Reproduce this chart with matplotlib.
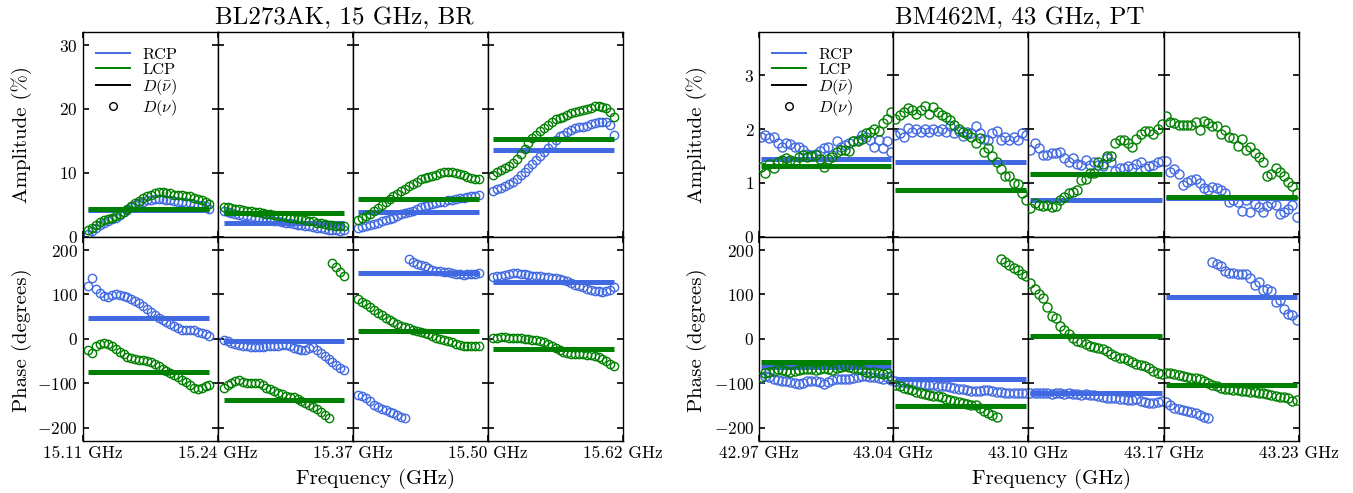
import numpy as np
import matplotlib
matplotlib.use("Agg")
import matplotlib.pyplot as plt
from matplotlib.lines import Line2D

plt.rcParams['font.family'] = ['cmr10', 'DejaVu Serif']
plt.rcParams['mathtext.fontset'] = 'cm'
plt.rcParams['mathtext.rm'] = 'cmr10'
plt.rcParams['axes.unicode_minus'] = False

# ---------------- data ----------------
titles = ["BL273AK, 15 GHz, BR", "BM462M, 43 GHz, PT"]
freq_edges_15 = ["15.11", "15.24", "15.37", "15.50", "15.62"]
freq_edges_43 = ["42.97", "43.04", "43.10", "43.17", "43.23"]

# BL273AK, amplitude (%) per IF
amp15_rcp = [
    [0.5, 0.9, 1.4, 1.9, 2.2, 2.5, 2.7, 3.0, 3.4, 3.8, 4.2, 4.6, 4.9, 5.2, 5.5, 5.7,
     5.8, 5.9, 5.9, 5.9, 5.8, 5.7, 5.6, 5.5, 5.4, 5.3, 5.2, 5.1, 5.0, 4.9, 4.8, 4.4],
    [4.0, 3.8, 3.7, 3.5, 3.4, 3.3, 3.2, 3.1, 3.0, 2.9, 2.8, 2.7, 2.6, 2.5, 2.4, 2.3,
     2.2, 2.1, 2.0, 1.9, 1.8, 1.7, 1.6, 1.5, 1.4, 1.3, 1.2, 1.1, 1.0, 1.0, 0.9, 1.0],
    [1.3, 1.5, 1.6, 1.8, 2.0, 2.2, 2.4, 2.6, 2.8, 3.0, 3.2, 3.5, 3.7, 3.9, 4.1, 4.4,
     4.6, 4.8, 5.0, 5.1, 5.3, 5.4, 5.5, 5.7, 5.8, 5.9, 6.0, 6.1, 6.2, 6.3, 6.4, 6.5],
    [7.1, 7.4, 7.7, 8.0, 8.2, 8.6, 9.1, 9.6, 10.2, 10.8, 11.4, 12.0, 12.7, 13.3, 13.9, 14.5,
     15.1, 15.7, 16.0, 16.4, 16.7, 17.0, 17.1, 17.2, 17.4, 17.6, 17.8, 18.0, 18.0, 17.9, 17.5, 16.0],
]
amp15_lcp = [
    [1.0, 1.3, 1.8, 2.3, 2.6, 2.8, 2.9, 3.2, 3.6, 3.9, 4.3, 4.8, 5.2, 5.6, 6.0, 6.3,
     6.6, 6.8, 7.0, 7.0, 6.9, 6.8, 6.6, 6.5, 6.5, 6.4, 6.3, 6.1, 5.9, 5.7, 5.4, 5.1],
    [4.7, 4.6, 4.5, 4.4, 4.3, 4.2, 4.1, 4.0, 3.9, 3.8, 3.7, 3.6, 3.5, 3.4, 3.3, 3.2,
     3.1, 3.0, 2.9, 2.8, 2.7, 2.6, 2.5, 2.4, 2.2, 2.1, 2.0, 1.9, 1.8, 1.7, 1.7, 1.6],
    [2.6, 2.9, 3.2, 3.5, 4.0, 4.5, 5.0, 5.5, 5.9, 6.3, 6.7, 7.1, 7.5, 7.9, 8.3, 8.6,
     9.0, 9.2, 9.4, 9.5, 9.7, 9.9, 10.1, 10.2, 10.1, 9.9, 9.8, 9.6, 9.3, 9.2, 9.1, 9.1],
    [9.7, 10.1, 10.5, 10.8, 11.1, 11.5, 12.2, 13.0, 13.8, 14.6, 15.4, 16.0, 16.5, 17.0, 17.5, 18.0,
     18.4, 18.6, 18.8, 19.0, 19.3, 19.5, 19.7, 19.8, 20.0, 20.2, 20.4, 20.4, 20.3, 20.1, 19.6, 18.8],
]
amp15_rcp_mean = [4.2, 2.1, 3.9, 13.6]
amp15_lcp_mean = [4.3, 3.7, 5.9, 15.3]

# BL273AK, phase (degrees)
pha15_rcp = [
    [120, 137, 112, 104, 97, 95, 98, 100, 99, 97, 95, 90, 85, 80, 73, 67,
     60, 53, 47, 42, 38, 33, 29, 24, 21, 20, 20, 19, 16, 13, 10, 7],
    [-2, -5, -9, -11, -14, -16, -17, -18, -19, -19, -18, -17, -16, -15, -15, -14,
     -14, -16, -21, -23, -25, -24, -20, -19, -25, -32, -38, -45, -52, -59, -65, -70],
    [-126, -129, -134, -140, -148, -153, -157, -160, -164, -168, -172, -175, -179, 179, 172, 169,
     166, 163, 160, 156, 153, 152, 151, 150, 149, 147, 145, 144, 145, 146, 147, 148],
    [140, 141, 142, 143, 146, 148, 149, 147, 145, 143, 142, 141, 141, 140, 139, 137,
     136, 134, 133, 130, 126, 122, 119, 116, 113, 111, 108, 107, 106, 107, 110, 117],
]
pha15_lcp = [
    [-25, -32, -15, -11, -9, -11, -15, -22, -30, -35, -40, -44, -46, -47, -48, -50,
     -53, -57, -62, -67, -72, -77, -82, -87, -92, -98, -104, -110, -112, -110, -107, -104],
    [-111, -105, -100, -95, -93, -97, -100, -100, -99, -100, -104, -110, -114, -118, -122, -125,
     -128, -130, -132, -135, -140, -145, -150, -154, -158, -164, -171, -178, 170, 161, 150, 141],
    [90, 84, 78, 72, 65, 59, 53, 47, 42, 38, 33, 30, 27, 24, 21, 18,
     16, 13, 10, 6, 3, 0, -3, -5, -8, -11, -13, -15, -17, -17, -16, -16],
    [2, 3, 4, 4, 3, 3, 2, 1, 0, -1, -2, -3, -5, -7, -11, -16,
     -21, -25, -29, -32, -33, -34, -34, -35, -36, -36, -38, -41, -45, -50, -56, -62],
]
pha15_rcp_mean = [46, -5, 148, 127]
pha15_lcp_mean = [-75, -138, 18, -23]

# BM462M, amplitude (%)
amp43_rcp = [
    [1.85, 1.89, 1.83, 1.86, 1.74, 1.67, 1.75, 1.72, 1.66, 1.67, 1.62, 1.54, 1.52, 1.54, 1.60, 1.64,
     1.66, 1.52, 1.77, 1.67, 1.70, 1.74, 1.77, 1.80, 1.89, 1.86, 1.80, 1.67, 1.80, 1.64, 1.77, 1.58],
    [1.89, 1.93, 1.85, 2.03, 1.95, 2.01, 1.95, 2.01, 1.95, 2.00, 1.97, 2.00, 1.95, 2.06, 1.93, 1.97,
     1.87, 1.95, 1.92, 2.05, 1.93, 1.81, 1.80, 1.93, 1.97, 1.79, 1.86, 1.80, 1.86, 1.80, 1.92, 1.89],
    [1.61, 1.74, 1.64, 1.52, 1.52, 1.55, 1.56, 1.58, 1.46, 1.39, 1.46, 1.36, 1.33, 1.43, 1.33, 1.39,
     1.33, 1.31, 1.46, 1.39, 1.23, 1.27, 1.27, 1.31, 1.27, 1.36, 1.38, 1.27, 1.31, 1.33, 1.38, 1.40],
    [1.41, 1.21, 1.25, 1.17, 0.96, 1.02, 1.05, 1.08, 0.99, 0.90, 0.87, 0.92, 0.90, 0.87, 0.81, 0.65,
     0.69, 0.65, 0.48, 0.68, 0.46, 0.61, 0.55, 0.45, 0.57, 0.63, 0.59, 0.43, 0.45, 0.51, 0.59, 0.36],
]
amp43_lcp = [
    [1.30, 1.18, 1.36, 1.27, 1.39, 1.43, 1.46, 1.43, 1.38, 1.49, 1.52, 1.48, 1.50, 1.52, 1.44, 1.29,
     1.44, 1.49, 1.58, 1.62, 1.62, 1.60, 1.77, 1.77, 1.81, 1.92, 1.95, 2.01, 1.97, 2.12, 2.18, 2.32],
    [2.18, 2.26, 2.32, 2.39, 2.36, 2.29, 2.36, 2.43, 2.28, 2.41, 2.32, 2.26, 2.23, 2.17, 2.08, 2.01,
     1.95, 1.91, 1.85, 1.75, 1.83, 1.58, 1.64, 1.50, 1.39, 1.25, 1.12, 1.12, 1.00, 0.98, 0.81, 0.68],
    [0.53, 0.62, 0.59, 0.57, 0.59, 0.55, 0.57, 0.69, 0.74, 0.81, 0.84, 0.86, 1.05, 1.07, 1.18, 1.19,
     1.38, 1.35, 1.50, 1.50, 1.75, 1.79, 1.79, 1.74, 1.67, 1.81, 1.91, 1.97, 1.97, 1.91, 2.00, 2.10],
    [2.24, 2.14, 2.11, 2.08, 2.08, 2.08, 2.08, 2.14, 1.98, 2.16, 2.12, 2.06, 2.05, 1.91, 1.98, 1.86,
     1.83, 1.69, 1.81, 1.61, 1.67, 1.55, 1.49, 1.38, 1.13, 1.17, 1.27, 1.21, 1.12, 1.02, 0.94, 0.82],
]
amp43_rcp_mean = [1.44, 1.38, 0.68, 0.72]
amp43_lcp_mean = [1.31, 0.87, 1.16, 0.73]

# BM462M, phase (degrees)
pha43_rcp = [
    [-89, -84, -86, -90, -92, -95, -96, -97, -99, -101, -100, -96, -95, -94, -98, -101,
     -97, -93, -91, -90, -91, -90, -89, -86, -84, -83, -85, -87, -89, -90, -86, -92],
    [-96, -97, -98, -99, -100, -101, -102, -103, -104, -105, -106, -106, -107, -108, -110, -112,
     -114, -115, -117, -118, -117, -116, -115, -117, -119, -120, -121, -121, -121, -122, -123, -121],
    [-121, -122, -121, -123, -123, -124, -122, -123, -124, -123, -125, -124, -126, -125, -126, -127,
     -129, -131, -133, -134, -134, -135, -135, -137, -138, -136, -140, -142, -144, -144, -143, -141],
    [-143, -150, -156, -159, -160, -162, -164, -168, -172, -175, -179, 174, 169, 163, 152, 149,
     148, 147, 147, 146, 137, 122, 129, 110, 112, 107, 82, 88, 67, 55, 54, 43],
]
pha43_lcp = [
    [-85, -78, -75, -72, -69, -70, -72, -74, -73, -71, -69, -68, -69, -70, -68, -66,
     -68, -70, -66, -63, -62, -64, -66, -68, -71, -74, -76, -75, -77, -79, -77, -83],
    [-104, -107, -111, -113, -116, -119, -121, -124, -126, -128, -129, -132, -135, -138, -140, -142,
     -144, -146, -148, -150, -156, -162, -167, -172, -177, 180, 172, 166, 160, 154, 147, 141],
    [125, 112, 100, 92, 72, 52, 48, 30, 20, 10, 3, -5, -8, -12, -17, -19,
     -21, -23, -27, -33, -38, -42, -44, -48, -51, -56, -58, -62, -66, -72, -76, -79],
    [-77, -78, -80, -82, -84, -86, -88, -89, -91, -96, -100, -104, -107, -110, -112, -114,
     -115, -116, -117, -118, -119, -120, -121, -122, -124, -126, -129, -130, -131, -134, -140, -138],
]
pha43_rcp_mean = [-64, -91, -123, 94]
pha43_lcp_mean = [-51, -151, 7, -105]

RCP_COLOR = "royalblue"
LCP_COLOR = "green"

# ---------------- layout ----------------
W, H = 1353, 493
fig = plt.figure(figsize=(W / 100, H / 100), dpi=100)

def px_axes(x0, x1, y0, y1):
    return fig.add_axes([x0 / W, 1 - y1 / H, (x1 - x0) / W, (y1 - y0) / H])

rows_px = [(32.3, 236.7), (236.7, 441.0)]
groups = [
    dict(xe=[82.7, 218.0, 352.7, 487.7, 622.7], freqs=freq_edges_15,
         amp=(amp15_rcp, amp15_lcp, amp15_rcp_mean, amp15_lcp_mean),
         pha=(pha15_rcp, pha15_lcp, pha15_rcp_mean, pha15_lcp_mean),
         amp_ylim=(0, 32), amp_ticks=[0, 10, 20, 30], pad=(1.46, 2.2), ms=6.0,
         title=titles[0], title_x=344, xlabel_x=376, ylab_x=22),
    dict(xe=[759.0, 893.3, 1028.3, 1164.0, 1298.7], freqs=freq_edges_43,
         amp=(amp43_rcp, amp43_lcp, amp43_rcp_mean, amp43_lcp_mean),
         pha=(pha43_rcp, pha43_lcp, pha43_rcp_mean, pha43_lcp_mean),
         amp_ylim=(0, 3.8), amp_ticks=[0, 1, 2, 3], pad=(0.48, 0.48), ms=6.5,
         title=titles[1], title_x=1020, xlabel_x=1052, ylab_x=697),
]
pha_ylim = (-230, 230)
pha_ticks = [-200, -100, 0, 100, 200]

def tick_fmt(v):
    if v < 0:
        return r"$-%d$" % abs(v)
    return r"$%d$" % v

for g in groups:
    for r, (kind, ylim, yticks) in enumerate([("amp", g["amp_ylim"], g["amp_ticks"]),
                                               ("pha", pha_ylim, pha_ticks)]):
        rcp, lcp, rcp_m, lcp_m = g[kind]
        y0, y1 = rows_px[r]
        for i in range(4):
            ax = px_axes(g["xe"][i], g["xe"][i + 1], y0, y1)
            n = len(rcp[i])
            x = np.arange(n)
            ax.plot(x, rcp[i], ls="none", marker="o", mfc="none", mec=RCP_COLOR,
                    ms=g["ms"], mew=1.0, zorder=2)
            ax.plot(x, np.full(n, rcp_m[i]), color=RCP_COLOR, lw=3.6,
                    solid_capstyle="butt", zorder=3)
            ax.plot(x, lcp[i], ls="none", marker="o", mfc="none", mec=LCP_COLOR,
                    ms=g["ms"], mew=1.0, zorder=4)
            ax.plot(x, np.full(n, lcp_m[i]), color=LCP_COLOR, lw=3.6,
                    solid_capstyle="butt", zorder=5)
            xl = (-g["pad"][0], n - 1 + g["pad"][1])
            ax.set_xlim(*xl)
            ax.set_ylim(*ylim)
            ax.set_yticks(yticks)
            if i == 0:
                ax.set_yticklabels([tick_fmt(v) for v in yticks])
            else:
                ax.set_yticklabels([])
            if i == 3:
                xt = [xl[0], xl[1]]
                xlab = [g["freqs"][i] + " GHz", g["freqs"][i + 1] + " GHz"]
            else:
                xt = [xl[0]]
                xlab = [g["freqs"][i] + " GHz"]
            ax.set_xticks(xt)
            if r == 1:
                ax.set_xticklabels(xlab)
            else:
                ax.set_xticklabels([""] * len(xt))
            ax.tick_params(direction="in", length=4.3, width=1.2, top=True, right=True,
                           labelsize=12.5, pad=3.4, colors="black")
            for s in ax.spines.values():
                s.set_linewidth(1.0)
            if r == 0 and i == 0:
                handles = [Line2D([], [], color=RCP_COLOR, lw=1.4),
                           Line2D([], [], color=LCP_COLOR, lw=1.4),
                           Line2D([], [], color="black", lw=1.4),
                           Line2D([], [], ls="none", marker="o", mfc="none", mec="black",
                                  ms=5.5, mew=1.0)]
                labels = ["RCP", "LCP", r"$D(\bar{\nu})$", r"$D(\nu)$"]
                ax.legend(handles, labels, loc="upper left",
                          bbox_to_anchor=(0.095, 0.925), frameon=False,
                          fontsize=11.8, handlelength=2.1, handletextpad=0.75,
                          labelspacing=0.02, borderpad=0, borderaxespad=0)
    # group texts
    fig.text(g["title_x"] / W, 1 - 24 / H, g["title"], ha="center", va="baseline",
             fontsize=18)
    fig.text(g["xlabel_x"] / W, 1 - 484 / H, "Frequency (GHz)", ha="center",
             va="baseline", fontsize=15)
    fig.text(g["ylab_x"] / W, 1 - 134.5 / H, "Amplitude (%)", ha="center", va="center",
             rotation=90, fontsize=15)
    fig.text(g["ylab_x"] / W, 1 - 340 / H, "Phase (degrees)", ha="center", va="center",
             rotation=90, fontsize=15)

fig.savefig("out.png", dpi=100)
